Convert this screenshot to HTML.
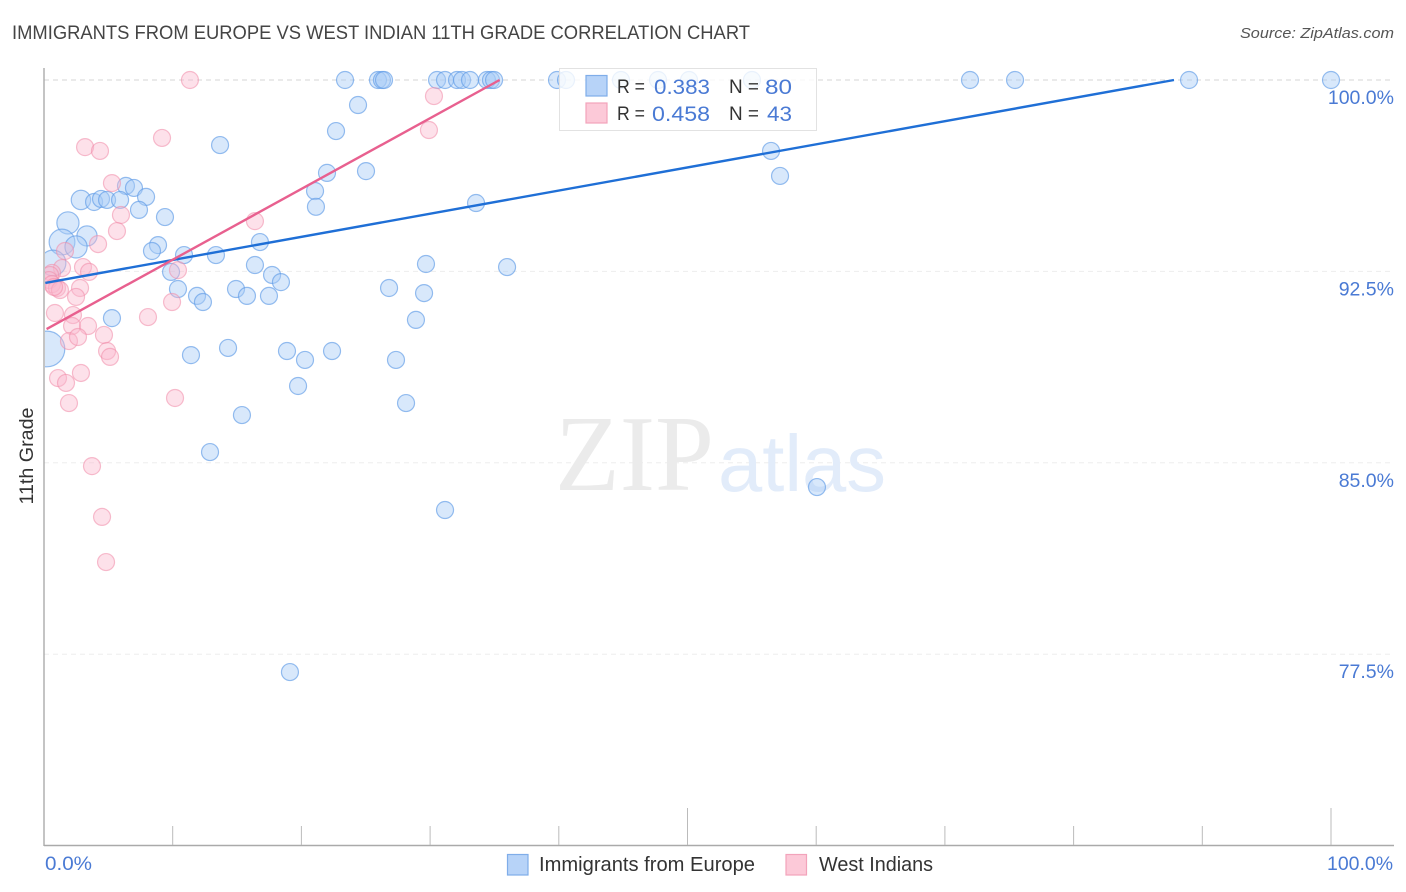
<!DOCTYPE html>
<html lang="en">
<head>
<meta charset="utf-8">
<title>Immigrants from Europe vs West Indian 11th Grade Correlation Chart</title>
<style>
html,body{margin:0;padding:0;background:#fff;width:1406px;height:892px;overflow:hidden}
svg{display:block;font-family:"Liberation Sans",sans-serif}
</style>
</head>
<body>
<svg id="chart" xmlns="http://www.w3.org/2000/svg" width="1406" height="892" viewBox="0 0 1406 892">
  <defs><clipPath id="plot-clip"><rect x="45" y="60" width="1361" height="785"/></clipPath></defs>
  <text x="12" y="39" font-size="19" fill="#444" textLength="738" lengthAdjust="spacingAndGlyphs">IMMIGRANTS FROM EUROPE VS WEST INDIAN 11TH GRADE CORRELATION CHART</text>
  <text x="1394" y="38" font-size="15" font-style="italic" fill="#555" text-anchor="end" textLength="154" lengthAdjust="spacingAndGlyphs">Source: ZipAtlas.com</text>
  <g id="grid"></g>
  <g>
    <text x="555" y="490" font-family="'Liberation Serif',serif" font-size="108" fill="#ebebeb" textLength="159" lengthAdjust="spacingAndGlyphs">ZIP</text>
    <text x="718" y="491" font-size="80" fill="#e2ecfa" textLength="168" lengthAdjust="spacingAndGlyphs">atlas</text>
  </g>
  <g id="axes">
    <line x1="44" y1="68" x2="44" y2="846" stroke="#aaa" stroke-width="1.4"/>
    <line x1="44" y1="845.5" x2="1394" y2="845.5" stroke="#aaa" stroke-width="1.4"/>
  </g>
  <g id="points" clip-path="url(#plot-clip)"></g>
  <g id="trends"></g>
  <g id="tick-labels"></g>
  <text transform="translate(33,456) rotate(-90)" font-size="19" fill="#333" text-anchor="middle" textLength="97" lengthAdjust="spacingAndGlyphs">11th Grade</text>
  <text x="45" y="870" font-size="19" fill="#4a7ad4" textLength="47" lengthAdjust="spacingAndGlyphs">0.0%</text>
  <text x="1393" y="870" font-size="19" fill="#4a7ad4" text-anchor="end" textLength="66" lengthAdjust="spacingAndGlyphs">100.0%</text>
  <g>
    <rect x="559.5" y="68.5" width="257" height="62" fill="#fff" fill-opacity="0.8" stroke="#e2e2e2"/>
    <rect x="586" y="75.5" width="21" height="20.5" fill="#b7d3f8" stroke="#7fade9" stroke-width="1.2"/>
    <rect x="586" y="103" width="21" height="20" fill="#fcc9d8" stroke="#f2a3bb" stroke-width="1.2"/>
    <text x="617" y="93" font-size="19" fill="#333" textLength="28" lengthAdjust="spacingAndGlyphs">R =</text>
    <text x="654" y="94" font-size="21" fill="#4a7ad4" textLength="56" lengthAdjust="spacingAndGlyphs">0.383</text>
    <text x="729" y="93" font-size="19" fill="#333" textLength="30" lengthAdjust="spacingAndGlyphs">N =</text>
    <text x="765" y="94" font-size="21" fill="#4a7ad4" textLength="27" lengthAdjust="spacingAndGlyphs">80</text>
    <text x="617" y="120" font-size="19" fill="#333" textLength="28" lengthAdjust="spacingAndGlyphs">R =</text>
    <text x="652" y="121" font-size="21" fill="#4a7ad4" textLength="58" lengthAdjust="spacingAndGlyphs">0.458</text>
    <text x="729" y="120" font-size="19" fill="#333" textLength="30" lengthAdjust="spacingAndGlyphs">N =</text>
    <text x="767" y="121" font-size="21" fill="#4a7ad4" textLength="25" lengthAdjust="spacingAndGlyphs">43</text>
  </g>
  <g>
    <rect x="507.5" y="854.5" width="20.5" height="20.5" fill="#b7d3f8" stroke="#7fade9" stroke-width="1.2"/>
    <text x="539" y="871" font-size="20" fill="#333" textLength="216" lengthAdjust="spacingAndGlyphs">Immigrants from Europe</text>
    <rect x="786" y="854.5" width="20.5" height="20.5" fill="#fcc9d8" stroke="#f2a3bb" stroke-width="1.2"/>
    <text x="819" y="871" font-size="20" fill="#333" textLength="114" lengthAdjust="spacingAndGlyphs">West Indians</text>
  </g>
</svg>
<script>
const yTickValues = [100, 92.5, 85, 77.5];
const yTickLabels = ["100.0%", "92.5%", "85.0%", "77.5%"];
const xTickValues = [10, 20, 30, 40, 50, 60, 70, 80, 90, 100];
const xMajorTicks = [50, 100];

const europeX = [23.39,25.95,26.26,26.42,30.54,31.16,32.09,32.48,33.10,34.42,34.73,34.97,39.86,40.56,44.83,47.71,50.12,55.01,71.95,75.45,88.97,100,
  24.40,22.69,13.68,56.49,21.99,25.02,57.19,6.37,6.99,7.93,2.87,3.89,4.43,4.90,5.91,7.38,21.06,21.13,33.57,9.40,1.86,3.34,1.40,2.49,8.86,8.39,10.88,13.36,16.78,16.39,9.87,17.72,18.41,10.41,14.92,15.77,17.48,11.89,12.35,29.68,35.98,26.81,29.53,28.90,5.28,0.70,0.23,11.42,14.30,18.88,20.28,22.38,27.35,19.74,28.13,15.38,12.90,31.16,60.06,19.11];
const europeY = [100,100,100,100,100,100,100,100,100,100,100,100,100,100,100,100,100,100,100,100,100,100,
  99.02,98.00,97.45,97.22,96.36,96.43,96.24,95.85,95.77,95.42,95.30,95.22,95.34,95.30,95.30,94.91,95.65,95.03,95.18,94.63,94.40,93.89,93.65,93.46,93.53,93.30,93.14,93.14,93.65,92.75,92.48,92.36,92.08,91.81,91.81,91.54,91.54,91.54,91.30,92.79,92.67,91.85,91.65,90.60,90.67,92.83,89.46,89.22,89.50,89.38,89.03,89.38,89.03,88.01,87.34,86.87,85.42,83.15,84.05,76.80];
const europeWeight = [1,1,1,1,1,1,1,1,1,1,1,1,1,1,1,1,1,1,1,1,1,1,
  1,1,1,1,1,1,1,1,1,1,1.3,1,1,1,1,1,1,1,1,1,1.7,1.4,2.3,1.7,1,1,1,1,1,1,1,1,1,1,1,1,1,1,1,1,1,1,1,1,1,2.3,4.4,1,1,1,1,1,1,1,1,1,1,1,1,1];

const westIndianX = [11.34,30.30,29.91,9.17,3.19,4.35,5.28,5.98,16.39,5.67,4.20,1.63,10.41,9.95,8.08,3.03,3.50,1.40,0.62,0.47,0.39,0.62,1.01,1.24,0.78,2.80,2.49,0.85,2.25,2.18,3.42,1.94,2.64,4.66,4.90,5.13,2.87,1.09,1.71,1.94,10.18,3.73,4.51,4.82];
const westIndianY = [100,99.37,98.04,97.73,97.37,97.22,95.96,94.71,94.47,94.08,93.57,93.30,92.55,91.30,90.71,92.67,92.48,92.63,92.44,92.36,92.16,92.00,91.85,91.77,91.89,91.85,91.50,90.87,90.79,90.36,90.36,89.77,89.93,90.01,89.38,89.15,88.52,88.32,88.13,87.34,87.54,84.87,82.88,81.11];

const europeTrendX = [0.1, 87.8];
const europeTrendY = [92.05, 100];
const westIndianTrendX = [0.2, 35.4];
const westIndianTrendY = [90.24, 100];

const NS = "http://www.w3.org/2000/svg";
const xScale = v => 44 + v * 12.87;
const yScale = v => 80 + (100 - v) * 25.52;
const radius = w => 8.5 * Math.sqrt(w);

const grid = document.getElementById("grid");
yTickValues.forEach((v, i) => {
  const l = document.createElementNS(NS, "line");
  
  
  l.setAttribute("x1", 44);
  l.setAttribute("x2", 1394);
  l.setAttribute("y1", yScale(v));
  l.setAttribute("y2", yScale(v));
  l.setAttribute("stroke", i === 0 ? "#d4d4d4" : "#ededed");
  l.setAttribute("stroke-width", 1);
  l.setAttribute("stroke-dasharray", "5 4");
  grid.appendChild(l);
});

const axes = document.getElementById("axes");
xTickValues.forEach(v => {
  const t = document.createElementNS(NS, "line");
  
  
  t.setAttribute("x1", xScale(v));
  t.setAttribute("x2", xScale(v));
  t.setAttribute("y1", xMajorTicks.includes(v) ? 808 : 826);
  t.setAttribute("y2", 845);
  t.setAttribute("stroke", "#bbb");
  t.setAttribute("stroke-width", 1);
  axes.appendChild(t);
});

const labels = document.getElementById("tick-labels");
yTickValues.forEach((v, i) => {
  const t = document.createElementNS(NS, "text");
  
  
  t.setAttribute("x", 1394);
  t.setAttribute("y", yScale(v) + 24);
  t.setAttribute("text-anchor", "end");
  t.setAttribute("font-size", 19.5);
  t.setAttribute("fill", "#4a7ad4");
  t.textContent = yTickLabels[i];
  labels.appendChild(t);
});

const points = document.getElementById("points");
europeX.forEach((v, i) => {
  const c = document.createElementNS(NS, "circle");
  
  
  c.setAttribute("cx", xScale(v));
  c.setAttribute("cy", yScale(europeY[i]));
  c.setAttribute("r", radius(europeWeight[i]));
  c.setAttribute("fill", "#a9ccf6");
  c.setAttribute("fill-opacity", 0.45);
  c.setAttribute("stroke", "#5f9be6");
  c.setAttribute("stroke-opacity", 0.65);
  c.setAttribute("stroke-width", 1.2);
  points.appendChild(c);
});
westIndianX.forEach((v, i) => {
  const c = document.createElementNS(NS, "circle");
  
  
  c.setAttribute("cx", xScale(v));
  c.setAttribute("cy", yScale(westIndianY[i]));
  c.setAttribute("r", radius(1));
  c.setAttribute("fill", "#fbb8cc");
  c.setAttribute("fill-opacity", 0.42);
  c.setAttribute("stroke", "#f08aa8");
  c.setAttribute("stroke-opacity", 0.55);
  c.setAttribute("stroke-width", 1.2);
  points.appendChild(c);
});

const trends = document.getElementById("trends");
const blueTrend = document.createElementNS(NS, "line");


blueTrend.setAttribute("x1", xScale(europeTrendX[0]));
blueTrend.setAttribute("y1", yScale(europeTrendY[0]));
blueTrend.setAttribute("x2", xScale(europeTrendX[1]));
blueTrend.setAttribute("y2", yScale(europeTrendY[1]));
blueTrend.setAttribute("stroke", "#1f6fd6");
blueTrend.setAttribute("stroke-width", 2.4);
trends.appendChild(blueTrend);
const pinkTrend = document.createElementNS(NS, "line");


pinkTrend.setAttribute("x1", xScale(westIndianTrendX[0]));
pinkTrend.setAttribute("y1", yScale(westIndianTrendY[0]));
pinkTrend.setAttribute("x2", xScale(westIndianTrendX[1]));
pinkTrend.setAttribute("y2", yScale(westIndianTrendY[1]));
pinkTrend.setAttribute("stroke", "#e8608f");
pinkTrend.setAttribute("stroke-width", 2.4);
trends.appendChild(pinkTrend);
</script>
</body>
</html>
